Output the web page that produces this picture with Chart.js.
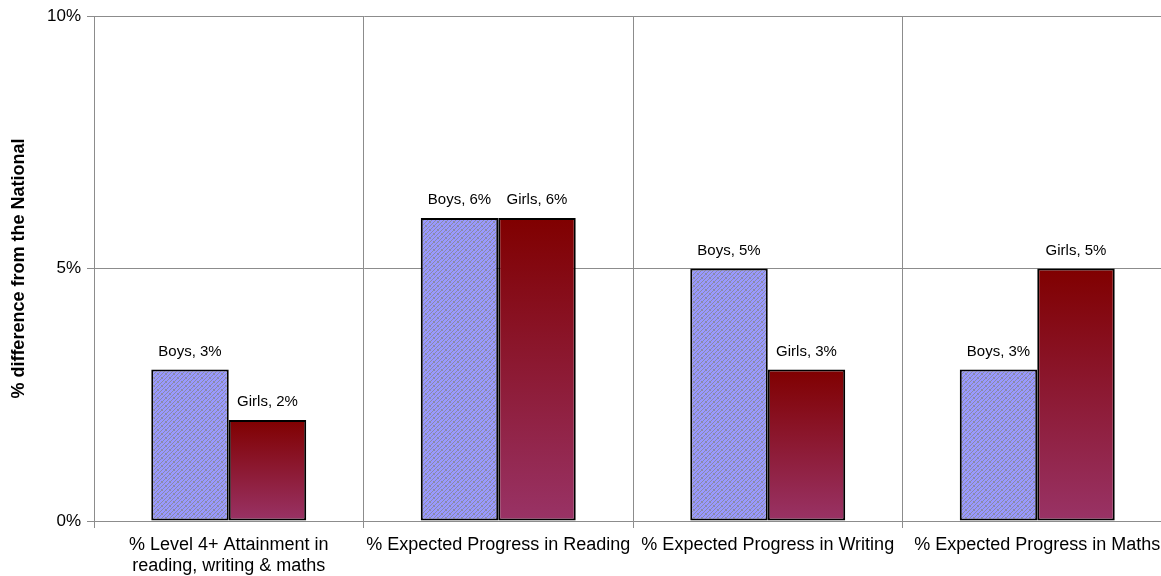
<!DOCTYPE html>
<html>
<head>
<meta charset="utf-8">
<script src="https://cdn.jsdelivr.net/npm/chart.js@4.4.0/dist/chart.umd.min.js"></script>
<style>
  html, body { margin:0; padding:0; background:#fff; overflow:hidden; }
  .wrap { width:1161px; height:576px; overflow:hidden; position:relative; }
  canvas { position:absolute; left:0; top:0; }
</style>
</head>
<body>
<div class="wrap"><canvas id="chart" width="1172" height="576"></canvas></div>
<script>
// Categories and values
const categories = [
    ['% Level 4+ Attainment in', 'reading, writing & maths'],
    '% Expected Progress in Reading',
    '% Expected Progress in Writing',
    '% Expected Progress in Maths'
];
const boys  = [3, 6, 5, 3];
const girls = [2, 6, 3, 5];
const yTicks = [0, 5, 10];

const FONT = '"Liberation Sans", Arial, sans-serif';
const GRID = '#8c8c8c';

// Woven fill for the boys bars
function makeWeave() {
    const c = document.createElement('canvas');
    c.width = 8; c.height = 8;
    const g = c.getContext('2d');
    g.fillStyle = '#9999ff';
    g.fillRect(0, 0, 8, 8);
    g.strokeStyle = '#8a8aa8';
    g.lineWidth = 1;
    g.beginPath();
    // diagonal strands
    g.moveTo(0, 8); g.lineTo(8, 0);
    g.moveTo(-4, 8); g.lineTo(4, 0);
    g.moveTo(4, 8); g.lineTo(12, 0);
    g.stroke();
    g.beginPath();
    // short cross stitches
    g.moveTo(1, 1); g.lineTo(3, 3);
    g.moveTo(5, 5); g.lineTo(7, 7);
    g.stroke();
    return g.createPattern(c, 'repeat');
}
const weave = makeWeave();

// Dark red to plum gradient, one per bar
function girlsFill(ctx) {
    const chart = ctx.chart;
    if (!chart.chartArea || ctx.type !== 'data') return '#800000';
    const y = chart.scales.y;
    const top = y.getPixelForValue(ctx.raw);
    const base = y.getPixelForValue(0);
    const gr = chart.ctx.createLinearGradient(0, top, 0, base);
    gr.addColorStop(0, '#800000');
    gr.addColorStop(1, '#993366');
    return gr;
}

// "Series, value%" above each bar
const barLabels = {
    id: 'barLabels',
    afterDatasetsDraw(chart) {
        const ctx = chart.ctx;
        ctx.save();
        ctx.font = '15px ' + FONT;
        ctx.fillStyle = '#000';
        ctx.textAlign = 'center';
        ctx.textBaseline = 'middle';
        chart.data.datasets.forEach((ds, i) => {
            chart.getDatasetMeta(i).data.forEach((bar, j) => {
                ctx.fillText(ds.label + ', ' + ds.data[j] + '%', bar.x, bar.y - 18);
            });
        });
        ctx.restore();
    }
};

new Chart(document.getElementById('chart'), {
    type: 'bar',
    data: {
        labels: categories,
        datasets: [
            { label: 'Boys', data: boys, backgroundColor: weave,
              borderColor: '#000', borderWidth: 2, borderSkipped: false },
            { label: 'Girls', data: girls, backgroundColor: girlsFill,
              borderColor: '#000', borderWidth: 2, borderSkipped: false }
        ]
    },
    options: {
        responsive: false,
        animation: false,
        categoryPercentage: 0.575,
        barPercentage: 1,
        layout: { padding: { top: 16, right: 0, left: 0, bottom: 0 } },
        plugins: { legend: { display: false }, tooltip: { enabled: false } },
        scales: {
            x: {
                grid: { offset: true, color: GRID, lineWidth: 1, tickLength: 7 },
                border: { color: GRID },
                ticks: { color: '#000', font: { family: FONT, size: 18, lineHeight: 1.15 }, padding: 7,
                         maxRotation: 0, autoSkip: false },
                afterFit(s) { s.height = 55; }
            },
            y: {
                min: 0, max: 10,
                afterBuildTicks(s) { s.ticks = yTicks.map(v => ({ value: v })); },
                grid: { color: GRID, lineWidth: 1, tickLength: 7 },
                border: { color: GRID },
                ticks: { color: '#000', font: { family: FONT, size: 17 }, padding: 6,
                         callback: v => v + '%' },
                title: { display: true, text: '% difference from the National', color: '#000',
                         font: { family: FONT, size: 18, weight: 'bold' }, padding: { top: 8, bottom: 4 } },
                afterFit(s) { s.width = 94; }
            }
        }
    },
    plugins: [barLabels]
});
</script>
</body>
</html>
